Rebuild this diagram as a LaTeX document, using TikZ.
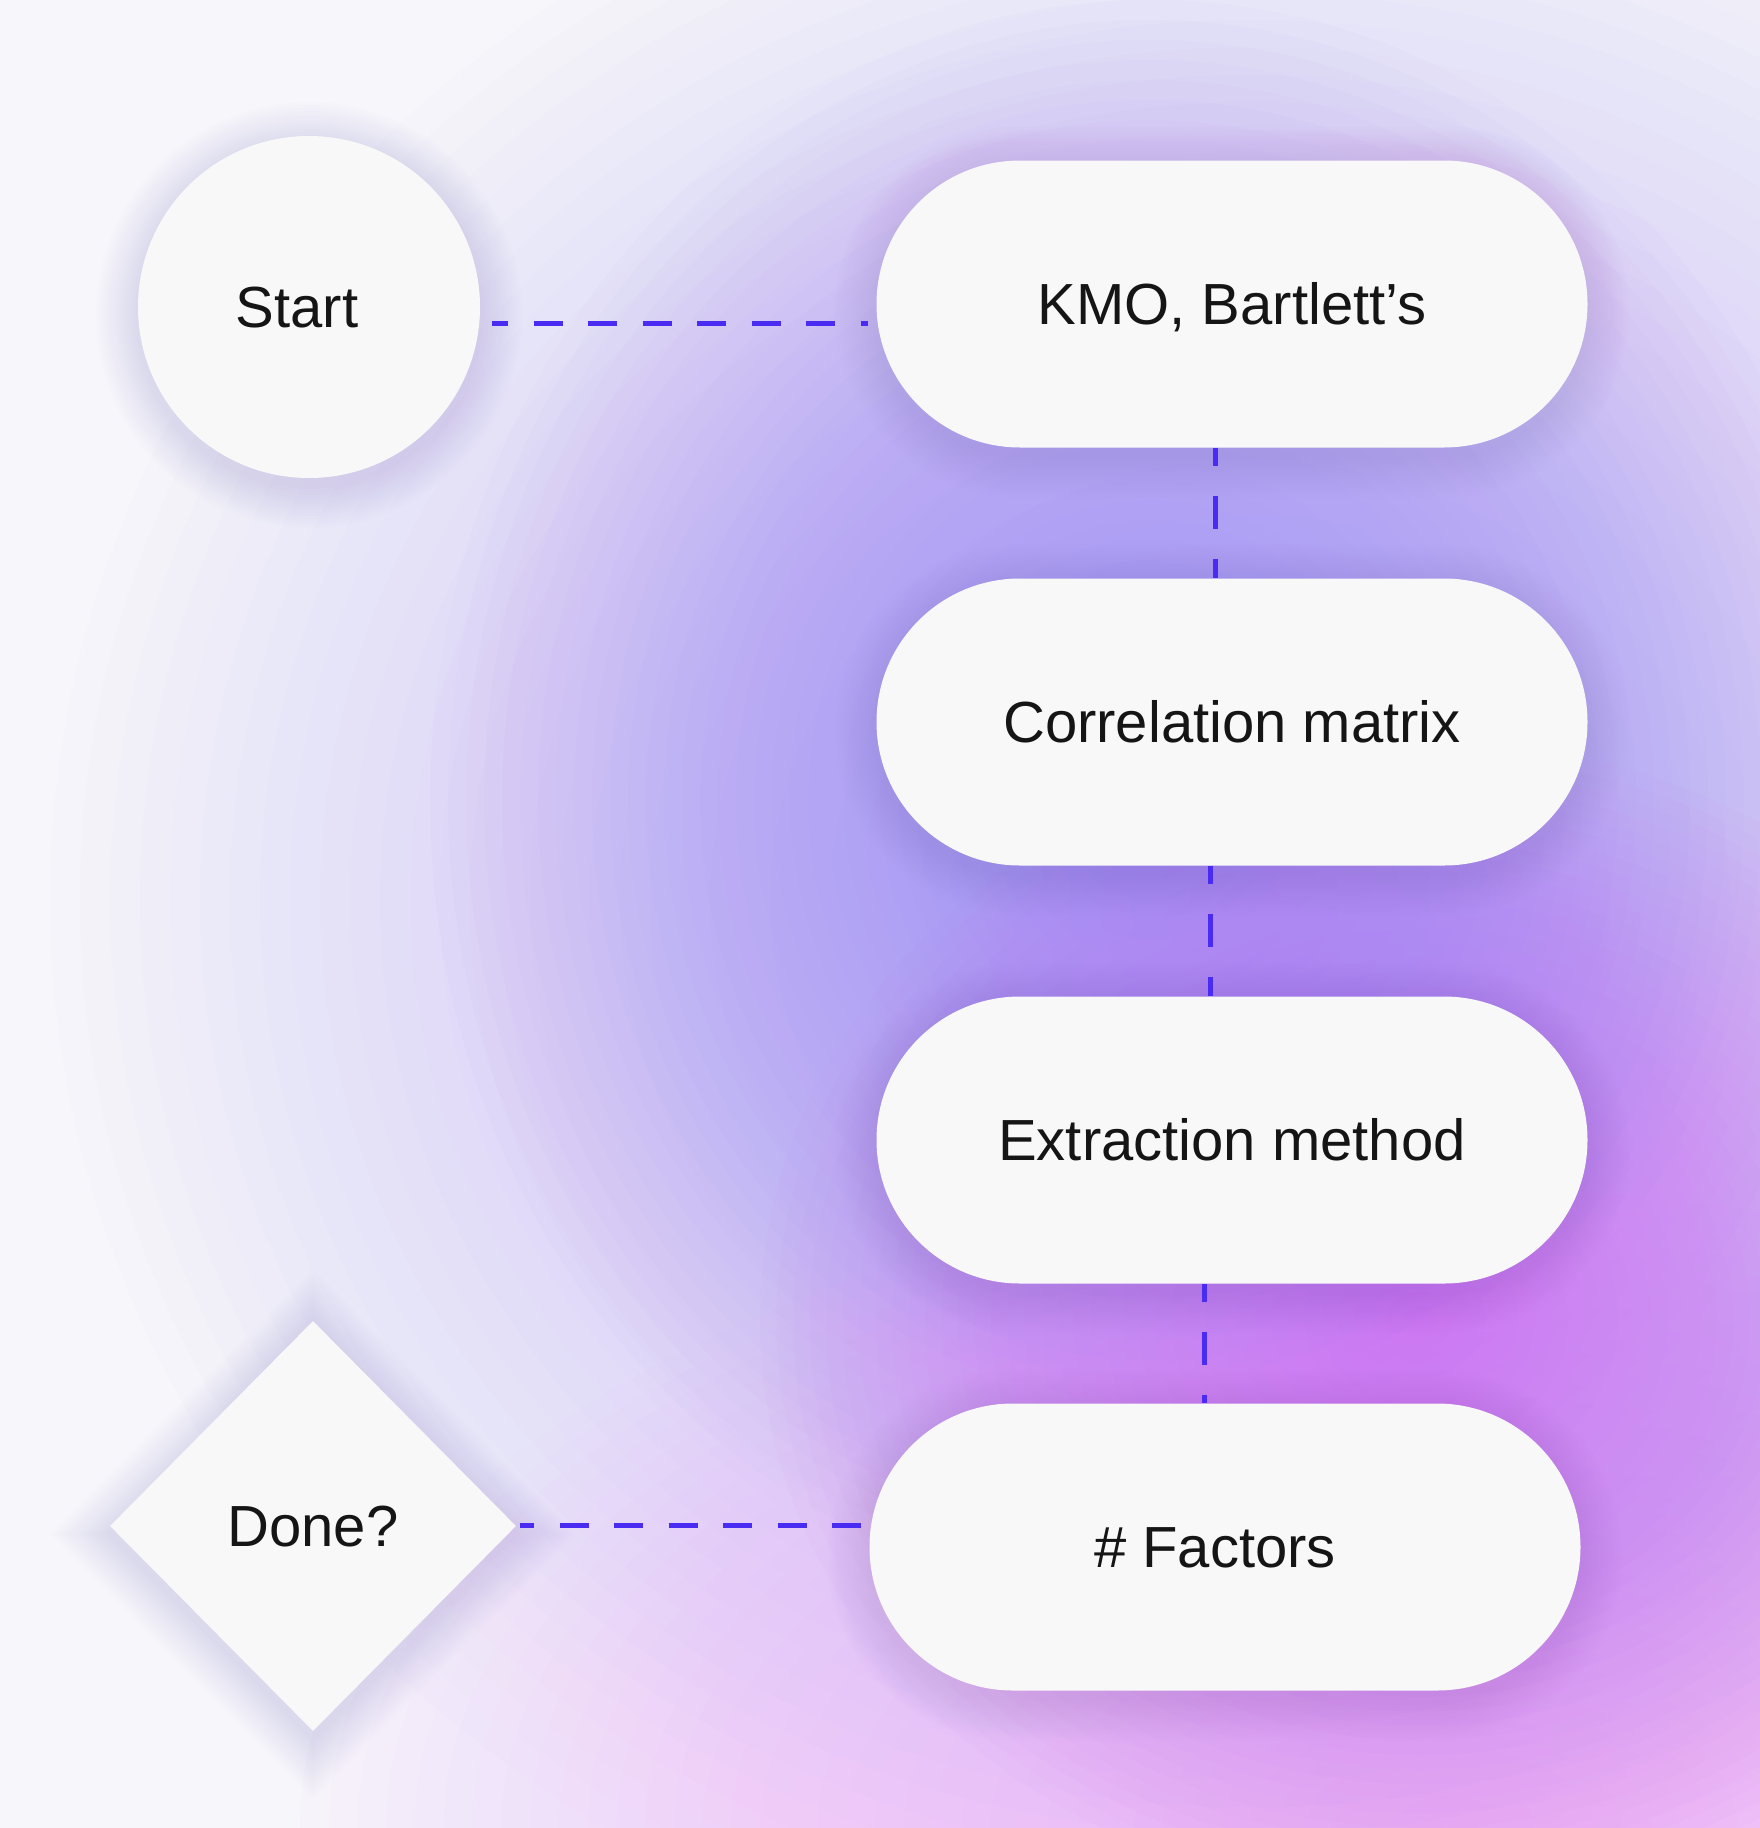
\documentclass[tikz,border=0pt]{standalone}
\usepackage{fontspec}
\setmainfont{Liberation Sans}
\usetikzlibrary{shapes.geometric,calc}
\pgfdeclarelayer{bglayer}
\pgfdeclarelayer{shadowlayer}
\pgfsetlayers{bglayer,shadowlayer,main}
\definecolor{bgbase}{HTML}{F7F6FB}
\definecolor{lavA}{HTML}{C8B8F8}
\definecolor{violetB}{HTML}{A08CF4}
\definecolor{magC}{HTML}{CC72F2}
\definecolor{pinkD}{HTML}{EFAEFA}
\definecolor{cardfill}{HTML}{F8F8F8}
\definecolor{ink}{HTML}{151515}
\definecolor{shadowc}{HTML}{5B3DB5}
\definecolor{linkc}{HTML}{4A2BF2}
% soft radial blob built from stacked translucent ellipses: colour, cx, cy, rx, ry
\newcommand\blobfill[5]{%
  \foreach \i in {1,...,40}{%
    \fill[#1, opacity=0.03] (#2,#3) ellipse [x radius={#4/40*\i}, y radius={#5/40*\i}];}}
% soft shadows
\newcommand\pillshadow[1]{%
  \foreach \d [evaluate=\d as \r using 143.5+\d] in {3,6,...,42}{%
    \fill[shadowc, opacity=0.0075, rounded corners=\r pt]
      ([shift={(-\d,{-\d+8})}]#1.north west) rectangle ([shift={(\d,{\d+8})}]#1.south east);}}
\newcommand\roundshadow[1]{%
  \foreach \d in {3,6,...,42}{%
    \fill[shadowc, opacity=0.007] ([yshift=-8pt]#1.center) circle [radius={171+\d}];}}
\newcommand\diamondshadow[1]{%
  \foreach \d in {3,6,...,42}{%
    \fill[shadowc, opacity=0.006]
      ([shift={(0,{-1.414*\d+8})}]#1.north) -- ([shift={({1.414*\d},8)}]#1.east)
      -- ([shift={(0,{1.414*\d+8})}]#1.south) -- ([shift={({-1.414*\d},8)}]#1.west) -- cycle;}}
\tikzset{
  card/.style={fill=cardfill, text=ink, font=\fontsize{58}{64}\selectfont,
    inner sep=0pt, text height=41.5pt, text depth=0pt},
  pill/.style={card, rectangle, rounded corners=143.5pt, minimum width=711pt, minimum height=287pt},
  startc/.style={card, circle, minimum size=342pt},
  decision/.style={card, diamond, minimum width=406pt, minimum height=410pt},
  hlink/.style={draw=linkc, line width=5pt, dash pattern=on 29pt off 25.5pt},
  vlink/.style={draw=linkc, line width=5pt, dash pattern=on 33pt off 30pt, dash phase=15pt}
}
\begin{document}
\begin{tikzpicture}[x=1pt,y=-1pt]
\useasboundingbox (0,0) rectangle (1760,1828);
% nodes
\node[startc] (start) at (309,307) {\kern-24pt Start};
\node[pill] (kmo) at (1232,304) {KMO, Bartlett’s};
\node[pill] (corr) at (1232,722) {Correlation matrix};
\node[pill] (extr) at (1232,1140) {Extraction method};
\node[pill] (fac) at (1225,1547) {\kern-20pt\# Factors};
\node[decision] (done) at (313,1526) {Done?};
% connectors
\draw[hlink, dash phase=13pt, shorten <=12pt, shorten >=8pt] ([yshift=-16pt]start.east) -- ([yshift=-19pt]kmo.west);
\draw[vlink] ([xshift=-17pt]kmo.south) -- ([xshift=-17pt]corr.north);
\draw[vlink] ([xshift=-22pt]corr.south) -- ([xshift=-22pt]extr.north);
\draw[vlink] ([xshift=-28pt]extr.south) -- ([xshift=-21pt]fac.north);
\draw[hlink, dash phase=15pt, shorten <=4pt, shorten >=2pt] ([yshift=1pt]done.east) -- ([yshift=22pt]fac.west);
% background
\begin{pgfonlayer}{bglayer}
\fill[bgbase] (0,0) rectangle (1760,1828);
\begin{scope}
\clip (0,0) rectangle (1760,1828);
\blobfill{lavA}{1250}{900}{1200}{1100}
\blobfill{violetB}{1150}{800}{720}{800}
\blobfill{pinkD}{1450}{1828}{1150}{640}
\blobfill{magC}{1420}{1320}{660}{580}
\end{scope}
\end{pgfonlayer}
% shadows
\begin{pgfonlayer}{shadowlayer}
\roundshadow{start}
\pillshadow{kmo}
\pillshadow{corr}
\pillshadow{extr}
\pillshadow{fac}
\diamondshadow{done}
\end{pgfonlayer}
\end{tikzpicture}
\end{document}
